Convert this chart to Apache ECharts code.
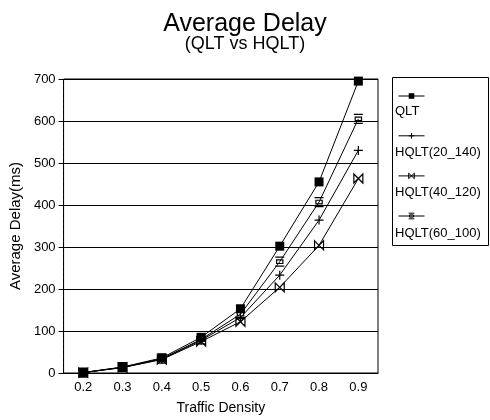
<!DOCTYPE html>
<html><head><meta charset="utf-8">
<script src="https://cdn.jsdelivr.net/npm/echarts@6/dist/echarts.min.js"></script>
<style>html,body{margin:0;padding:0;background:#fff}#c{width:490px;height:420px}</style>
</head><body><div id="c"></div>
<script>
const categories = ['0.2','0.3','0.4','0.5','0.6','0.7','0.8','0.9'];
const seriesNames = ['QLT','HQLT(20_140)','HQLT(40_120)','HQLT(60_100)'];
const qlt      = [1, 14, 36, 85, 153, 302, 455, 695];
const hqlt20   = [1, 13, 33, 78, 132, 233, 364, 530];
const hqlt40   = [1, 13, 32, 75, 122, 204, 304, 463];
const hqlt60   = [1, 14, 34, 80, 140, 265, 407, 605];
const yTicks = {min: 0, max: 700, interval: 100};

const FONT = '"Liberation Sans", Arial, sans-serif';
const symbols = [
  'rect',
  'path://M5,0 L5,10 M0,5 L10,5',
  'path://M0,0 L10,10 L10,0 L0,10 Z',
  'path://M0,0 L10,0 M1.5,3 L8.5,3 L8.5,7 L1.5,7 Z M0,10 L10,10'
];
const datas = [qlt, hqlt20, hqlt40, hqlt60];

const chart = echarts.init(document.getElementById('c'), null, {renderer: 'canvas'});
const series = seriesNames.map((n, i) => ({
  name: n, type: 'line', data: datas[i],
  symbol: symbols[i], symbolSize: 9,
  showSymbol: true,
  lineStyle: {color: '#000', width: 1},
  itemStyle: i === 0 ? {color: '#000', borderColor: '#000', borderWidth: 0}
                     : {color: 'rgba(255,255,255,0)', borderColor: '#000', borderWidth: 1.2},
  emphasis: {disabled: true},
  animation: false
}));

const legendTexts = seriesNames.map((n, i) => ({
  type: 'text', left: 395, top: 105 + i * 40.5,
  style: {text: n, font: '13px ' + FONT, fill: '#000'}
}));

chart.setOption({
  backgroundColor: '#fff',
  animation: false,
  title: {
    text: 'Average Delay', subtext: '(QLT vs HQLT)', left: 'center', top: 7, itemGap: -2,
    textStyle: {fontFamily: FONT, fontSize: 25, fontWeight: 'normal', color: '#000'},
    subtextStyle: {fontFamily: FONT, fontSize: 18, color: '#000'}
  },
  grid: {left: 60, right: 112, top: 79, bottom: 42, show: true, borderColor: '#000', borderWidth: 1},
  legend: {
    data: seriesNames.map((n, i) => ({
      name: n,
      itemStyle: i === 0 ? {color: '#000', borderWidth: 0}
                         : {color: 'rgba(255,255,255,0)', borderColor: '#000', borderWidth: 1},
      lineStyle: {color: '#000', width: 1}
    })),
    orient: 'vertical', left: 393, top: 88,
    itemWidth: 26, itemHeight: 7, itemGap: 33.5,
    formatter: () => ' ',
    textStyle: {fontSize: 6}, selectedMode: false
  },
  graphic: [
    {type: 'rect', shape: {x: 392.5, y: 77.5, width: 96, height: 168},
     style: {fill: 'none', stroke: '#000', lineWidth: 1}}
  ].concat(legendTexts),
  xAxis: {
    type: 'category', data: categories, boundaryGap: true,
    name: 'Traffic Density', nameLocation: 'middle', nameGap: 28,
    nameTextStyle: {fontFamily: FONT, fontSize: 14, color: '#000'},
    axisLine: {lineStyle: {color: '#000', width: 1}},
    axisTick: {show: false},
    axisLabel: {fontFamily: FONT, fontSize: 13, color: '#000', margin: 8}
  },
  yAxis: {
    type: 'value', min: yTicks.min, max: yTicks.max, interval: yTicks.interval,
    name: 'Average Delay(ms)', nameLocation: 'middle', nameGap: 36,
    nameTextStyle: {fontFamily: FONT, fontSize: 15, color: '#000'},
    axisLine: {show: true, lineStyle: {color: '#000', width: 1, type: 'dashed'}},
    axisTick: {show: true, length: 5, lineStyle: {color: '#000'}},
    axisLabel: {fontFamily: FONT, fontSize: 13, color: '#000', margin: 8},
    splitLine: {show: true, lineStyle: {color: '#000', width: 1}}
  },
  series: series
});
</script>
</body></html>
